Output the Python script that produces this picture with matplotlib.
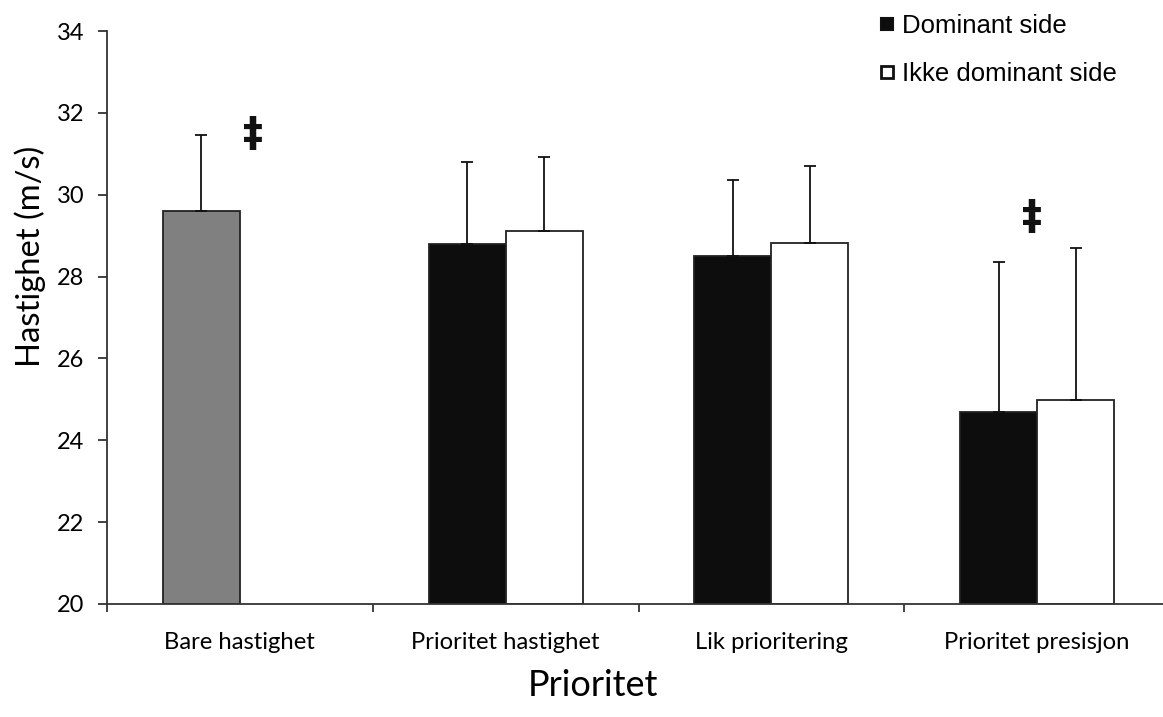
import numpy as np
import matplotlib
matplotlib.use("Agg")
import matplotlib.pyplot as plt
from matplotlib.lines import Line2D

# --- Data ---
categories = ["Bare hastighet", "Prioritet hastighet", "Lik prioritering", "Prioritet presisjon"]
dominant_mean = [29.60, 28.79, 28.50, 24.68]
dominant_sd = [1.85, 2.01, 1.86, 3.67]
ikke_mean = [np.nan, 29.11, 28.82, 24.99]
ikke_sd = [np.nan, 1.81, 1.87, 3.72]
# category 0 has only one condition, drawn grey
dominant_colors = ["#808080", "#0d0d0d", "#0d0d0d", "#0d0d0d"]
sig_cat = [0.05, 2.98]
sig_y = [31.47, 29.43]
yticks = [20, 22, 24, 26, 28, 30, 32, 34]

W, H = 1163, 717
fig = plt.figure(figsize=(W / 100, H / 100), dpi=100)
ax = fig.add_axes([107 / W, 113 / H, (1170 - 107) / W, (604 - 31) / H])

x = np.arange(len(categories))
bw = 0.29
edge = "#222222"

ax.bar(x - bw / 2, np.array(dominant_mean) - 20, bw, bottom=20,
       color=dominant_colors, edgecolor=edge, linewidth=1.3, zorder=2)
ax.bar(x + bw / 2, np.array(ikke_mean) - 20, bw, bottom=20,
       color="white", edgecolor=edge, linewidth=1.3, zorder=2)

# plus-only error bars
ax.errorbar(x - bw / 2, dominant_mean, yerr=[np.zeros(4), dominant_sd],
            fmt="none", ecolor="#111111", elinewidth=1.3, capsize=4,
            capthick=1.3, zorder=3)
ax.errorbar(x + bw / 2, ikke_mean, yerr=[np.zeros(4), ikke_sd],
            fmt="none", ecolor="#111111", elinewidth=1.3, capsize=4,
            capthick=1.3, zorder=3)

for cx, cy in zip(sig_cat, sig_y):
    ax.text(cx, cy, "\u2021", ha="center", va="center", fontsize=29,
            fontweight="bold", family="DejaVu Sans", color="#111111")

ax.set_xlim(-0.5, len(categories) - 0.5)
ax.set_ylim(20, 34)
ax.set_yticks(yticks)
ax.set_xticks(np.arange(len(categories) + 1) - 0.5, minor=False)
ax.set_xticklabels([])
ax.set_xticks(x, minor=True)
ax.set_xticklabels(categories, minor=True, family="Lato", fontsize=17.2)
ax.tick_params(axis="x", which="minor", length=0, pad=20)
ax.tick_params(axis="x", which="major", direction="out", length=6, width=1.3, color="#333333")
ax.tick_params(axis="y", direction="out", length=6.5, width=1.3, color="#333333",
               labelsize=17, pad=10)
for lbl in ax.get_yticklabels():
    lbl.set_family("Lato")

for s in ["top", "right"]:
    ax.spines[s].set_visible(False)
for s in ["left", "bottom"]:
    ax.spines[s].set_linewidth(1.3)
    ax.spines[s].set_color("#333333")

ax.set_ylabel("Hastighet (m/s)", family="Lato", fontsize=23.6)
ax.yaxis.set_label_coords((46 - 107) / 1063, (604 - 256) / 573)
fig.text(593 / W, 1 - 685 / H, "Prioritet", family="Lato", fontsize=26,
         ha="center", va="center")

handles = [Line2D([], [], marker="s", linestyle="none", markersize=9,
                  markerfacecolor="#0d0d0d", markeredgecolor="#111111", markeredgewidth=1.5),
           Line2D([], [], marker="s", linestyle="none", markersize=9,
                  markerfacecolor="white", markeredgecolor="#111111", markeredgewidth=2)]
fig.legend(handles, ["Dominant side", "Ikke dominant side"], loc="upper left",
           bbox_to_anchor=(866 / W, 1 - 1 / H), frameon=False,
           prop={"family": "Liberation Sans", "size": 18.5}, handlelength=0.6,
           handletextpad=0.31, labelspacing=0.95, borderpad=0)

fig.savefig("out.png", dpi=100)
